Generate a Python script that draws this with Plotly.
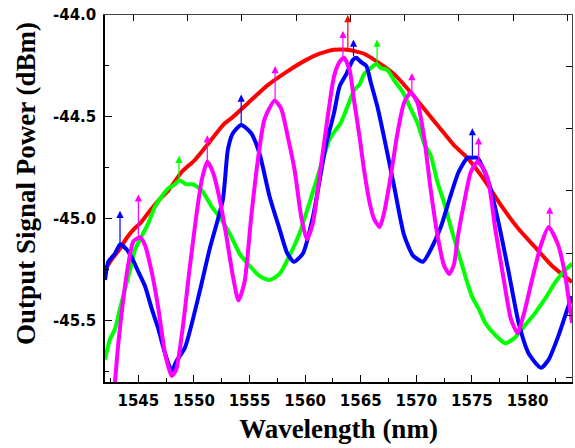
import plotly.graph_objects as go

# ---- data ----
red_x = [1542.0, 1542.6, 1543.3, 1544.0, 1544.6, 1545.2, 1545.9, 1546.8, 1547.7, 1548.9, 1550.1, 1551.3, 1552.3, 1552.8,
         1553.5, 1555.3, 1556.5, 1558.3, 1560.1, 1561.3, 1562.6, 1562.8, 1563.8, 1565.3, 1566.5, 1568.0, 1569.5,
         1571.0, 1572.5, 1573.4, 1574.4, 1575.6, 1576.5, 1577.7, 1579.2, 1580.7, 1582.2, 1584.0]
red_y = [-45.25, -45.20, -45.15, -45.09, -45.05, -45.02, -44.97, -44.91, -44.86, -44.77, -44.71, -44.63, -44.56, -44.53,
         -44.50, -44.41, -44.35, -44.28, -44.22, -44.19, -44.17, -44.17, -44.17, -44.19, -44.23, -44.29, -44.38,
         -44.48, -44.58, -44.64, -44.69, -44.77, -44.84, -44.94, -45.05, -45.14, -45.23, -45.31]

green_x = [1542.0, 1542.45, 1542.9, 1543.35, 1543.8, 1544.25, 1544.7, 1545.3, 1545.9, 1546.5, 1547.1, 1547.7, 1548.3,
           1548.7, 1549.3, 1549.9, 1550.7, 1551.6, 1552.3, 1553.2, 1554.1, 1555.0, 1555.9, 1556.8, 1557.7, 1558.6,
           1559.5, 1560.4, 1561.3, 1562.2, 1562.8, 1563.2, 1563.8, 1564.4, 1564.9, 1565.3, 1565.9, 1566.4, 1566.8,
           1567.4, 1568.0, 1568.8, 1569.4, 1570.1, 1570.7, 1571.3, 1571.9, 1572.5, 1573.1, 1573.8, 1574.4, 1575.0,
           1575.6, 1576.2, 1577.1, 1578.0, 1578.9, 1579.8, 1580.7, 1581.6, 1582.5, 1583.4, 1584.0]
green_y = [-45.69, -45.59, -45.54, -45.44, -45.345, -45.25, -45.15, -45.085, -45.02, -44.94, -44.89, -44.85, -44.83,
           -44.81, -44.83, -44.83, -44.86, -44.94, -44.99, -45.07, -45.17, -45.23, -45.28, -45.30, -45.27, -45.18,
           -45.07, -44.92, -44.76, -44.61, -44.56, -44.53, -44.45, -44.37, -44.34, -44.29, -44.26, -44.24, -44.26,
           -44.27, -44.32, -44.38, -44.45, -44.53, -44.63, -44.69, -44.82, -44.92, -45.04, -45.17, -45.28, -45.38,
           -45.44, -45.51, -45.57, -45.61, -45.58, -45.52, -45.46, -45.39, -45.31, -45.25, -45.22]

blue_x = [1542.0, 1542.3, 1542.9, 1543.35, 1543.95, 1544.5, 1545.0, 1545.6, 1546.2, 1546.8, 1547.4, 1548.0, 1548.4,
          1549.2, 1550.5, 1551.4, 1552.6, 1553.05, 1553.5, 1554.25, 1555.15, 1555.9, 1556.8, 1557.7, 1558.4, 1559.0,
          1559.8, 1560.7, 1561.9, 1562.6, 1563.1, 1563.7, 1564.3, 1564.6, 1565.0, 1565.5, 1565.9, 1566.5, 1567.1,
          1568.0, 1568.9, 1569.7, 1570.6, 1571.3, 1572.2, 1573.0, 1573.8, 1574.6, 1575.0, 1575.5, 1575.9, 1576.5,
          1577.4, 1578.3, 1579.2, 1580.1, 1581.2, 1581.9, 1582.8, 1583.6, 1584.0]
blue_y = [-45.30, -45.21, -45.17, -45.125, -45.15, -45.20, -45.26, -45.33, -45.44, -45.54, -45.66, -45.745, -45.70,
          -45.63, -45.36, -45.15, -44.905, -44.66, -44.58, -44.54, -44.58, -44.68, -44.89, -45.05, -45.17, -45.21,
          -45.17, -44.99, -44.63, -44.48, -44.35, -44.29, -44.22, -44.21, -44.23, -44.25, -44.33, -44.45, -44.60,
          -44.84, -45.08, -45.18, -45.21, -45.15, -45.04, -44.90, -44.77, -44.70, -44.70, -44.70, -44.74, -44.82,
          -45.02, -45.26, -45.51, -45.66, -45.73, -45.69, -45.57, -45.44, -45.38]

magenta_x = [1542.9, 1543.2, 1543.65, 1544.1, 1544.55, 1545.15, 1545.6, 1546.2, 1546.8, 1547.4, 1548.0, 1548.4, 1549.0,
             1549.6, 1550.2, 1550.7, 1551.2, 1551.7, 1552.3, 1552.9, 1553.5, 1554.0, 1554.55, 1555.15, 1555.75,
             1556.35, 1557.25, 1557.85, 1558.45, 1559.05, 1559.65, 1560.15, 1560.7, 1561.3, 1562.0, 1562.6, 1563.1,
             1563.5, 1564.0, 1564.4, 1564.9, 1565.3, 1565.8, 1566.2, 1566.7, 1567.1, 1567.7, 1568.3, 1568.9, 1569.5,
             1570.1, 1570.7, 1571.3, 1571.9, 1572.5, 1572.97, 1573.4, 1573.7, 1574.3, 1574.9, 1575.5, 1576.1, 1576.5,
             1577.1, 1577.9, 1578.5, 1579.1, 1579.7, 1580.4, 1581.2, 1581.9, 1582.7, 1583.3, 1584.0]
magenta_y = [-45.80, -45.61, -45.39, -45.22, -45.11, -45.09, -45.13, -45.26, -45.44, -45.66, -45.77, -45.74, -45.53,
             -45.25, -44.99, -44.81, -44.72, -44.77, -44.90, -45.08, -45.28, -45.40, -45.31, -44.99, -44.71,
             -44.51, -44.42, -44.46, -44.60, -44.76, -44.99, -45.10, -45.02, -44.79, -44.51, -44.30, -44.23,
             -44.21, -44.27, -44.42, -44.60, -44.76, -44.92, -45.00, -45.04, -44.97, -44.79, -44.58, -44.43, -44.38,
             -44.43, -44.60, -44.86, -45.08, -45.23, -45.27, -45.22, -45.10, -44.92, -44.77, -44.72, -44.76, -44.82,
             -45.05, -45.31, -45.49, -45.56, -45.46, -45.30, -45.13, -45.04, -45.12, -45.25, -45.51]

# peak markers (arrows): x, peak value, arrow tip value
red_arrow_x = [1563.84]; red_arrow_from = [-44.17]; red_arrow_to = [-44.0]
green_arrow_x = [1548.65, 1566.47]; green_arrow_from = [-44.81, -44.24]; green_arrow_to = [-44.69, -44.12]
blue_arrow_x = [1543.35, 1554.25, 1564.35, 1575.04]
blue_arrow_from = [-45.125, -44.54, -44.21, -44.70]
blue_arrow_to = [-44.96, -44.39, -44.12, -44.555]
magenta_arrow_x = [1545.0, 1551.2, 1557.3, 1563.4, 1569.6, 1575.6, 1582.0]
magenta_arrow_from = [-45.09, -44.72, -44.42, -44.21, -44.38, -44.72, -45.04]
magenta_arrow_to = [-44.88, -44.59, -44.25, -44.077, -44.285, -44.60, -44.94]

x_tick_vals = [1545, 1550, 1555, 1560, 1565, 1570, 1575, 1580]
x_tick_text = ["1545", "1550", "1555", "1560", "1565", "1570", "1575", "1580"]
y_tick_vals = [-44.0, -44.5, -45.0, -45.5]
y_tick_text = ["-44.0", "-44.5", "-45.0", "-45.5"]

RED, GREEN, BLUE, MAGENTA = "#ff0000", "#00ff00", "#0000ff", "#ff00ff"

fig = go.Figure()
for xs, ys, c in [(red_x, red_y, RED), (green_x, green_y, GREEN), (blue_x, blue_y, BLUE), (magenta_x, magenta_y, MAGENTA)]:
    fig.add_trace(go.Scatter(x=xs, y=ys, mode="lines", line=dict(color=c, width=4, shape="spline", smoothing=0.6),
                             showlegend=False, hoverinfo="skip"))

# invisible trace to hold the independent top/right frame axes
fig.add_trace(go.Scatter(x=[0.5], y=[0.5], xaxis="x2", yaxis="y2", mode="markers",
                         marker=dict(opacity=0), showlegend=False, hoverinfo="skip"))

annotations = []
for xs, fr, to, c in [(red_arrow_x, red_arrow_from, red_arrow_to, RED),
                      (green_arrow_x, green_arrow_from, green_arrow_to, GREEN),
                      (blue_arrow_x, blue_arrow_from, blue_arrow_to, BLUE),
                      (magenta_arrow_x, magenta_arrow_from, magenta_arrow_to, MAGENTA)]:
    for xv, f, t in zip(xs, fr, to):
        annotations.append(dict(x=xv, y=t, ax=xv, ay=f, xref="x", yref="y", axref="x", ayref="y",
                                text="", showarrow=True, arrowhead=2, arrowsize=1.2, arrowwidth=1.2,
                                arrowcolor=c, standoff=0, startstandoff=0))

annotations.append(dict(text="<b>Output Signal Power (dBm)</b>", textangle=-90, xref="paper", yref="paper",
                        x=-0.169, y=0.54, xanchor="center", yanchor="middle", showarrow=False,
                        font=dict(family="Liberation Serif", size=27, color="black")))

tickfont = dict(family="DejaVu Sans", size=15, color="black", weight="bold")

fig.update_layout(
    width=575, height=448,
    margin=dict(l=105, r=3, t=15, b=66),
    paper_bgcolor="white", plot_bgcolor="white",
    xaxis=dict(range=[1542, 1584], tickvals=x_tick_vals, ticktext=x_tick_text, ticks="inside", ticklen=7,
               tickwidth=1.2, tickcolor="black", showline=True, linecolor="black", linewidth=1.5,
               showgrid=False, zeroline=False, tickfont=tickfont, ticklabelstandoff=4, automargin=False,
               minor=dict(dtick=2.5, tick0=1542.5, ticks="inside", ticklen=4, tickcolor="black", tickwidth=1.2),
               title=dict(text="<b>Wavelength (nm)</b>", standoff=10,
                          font=dict(family="Liberation Serif", size=27, color="black"))),
    yaxis=dict(range=[-45.8, -44.0], tickvals=y_tick_vals, ticktext=y_tick_text, ticks="inside", ticklen=7,
               tickwidth=1.2, tickcolor="black", showline=True, linecolor="black", linewidth=1.5,
               showgrid=False, zeroline=False, tickfont=tickfont, ticklabelstandoff=4, automargin=False,
               minor=dict(dtick=0.25, tick0=-44.25, ticks="inside", ticklen=4, tickcolor="black", tickwidth=1.2)),
    xaxis2=dict(overlaying="x", side="top", range=[0, 1], showticklabels=False, ticks="inside", ticklen=6,
                tickvals=[0.06, 0.176, 0.292, 0.409, 0.525, 0.641, 0.758, 0.874, 0.990],
                tickcolor="black", tickwidth=1.2, showline=True, linecolor="#444444", linewidth=1.2,
                showgrid=False, zeroline=False, automargin=False),
    yaxis2=dict(overlaying="y", side="right", range=[0, 1], showticklabels=False, ticks="inside", ticklen=6,
                tickvals=[0.011, 0.181, 0.351, 0.522, 0.6915, 0.861],
                tickcolor="black", tickwidth=1.2, showline=True, linecolor="#444444", linewidth=1.2,
                showgrid=False, zeroline=False, automargin=False),
    annotations=annotations,
)

fig.write_html("out.html", config={"displayModeBar": False},
               post_script="document.body.style.margin='0';document.body.style.padding='0';")
